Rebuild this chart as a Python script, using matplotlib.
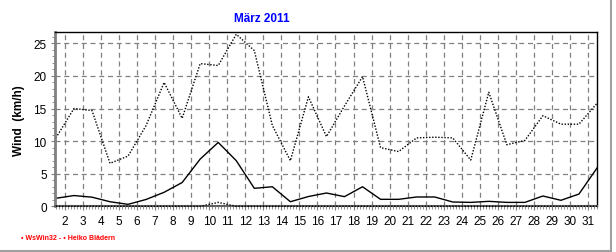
import matplotlib
matplotlib.use("Agg")
import matplotlib.pyplot as plt
from matplotlib.ticker import MultipleLocator
from matplotlib.lines import Line2D

plt.rcParams['font.family'] = ['Liberation Sans', 'DejaVu Sans']

days = list(range(1, 32))
wind_max = [10.5, 15.0, 14.7, 6.6, 7.7, 12.4, 19.0, 13.5, 21.9, 21.6,
            26.4, 23.9, 12.4, 7.0, 16.8, 10.7, 15.4, 19.9, 9.0, 8.4,
            10.5, 10.6, 10.5, 7.1, 17.5, 9.45, 10.1, 13.9, 12.6, 12.6, 15.8]
wind_mean = [1.23, 1.65, 1.4, 0.7, 0.3, 1.05, 2.15, 3.65, 7.25, 9.8,
             7.0, 2.76, 3.0, 0.7, 1.5, 2.04, 1.48, 3.0, 1.07, 1.07,
             1.43, 1.43, 0.66, 0.6, 0.76, 0.6, 0.6, 1.58, 0.92, 1.88, 5.87]
wind_min = [0, 0, 0, 0, 0, 0, 0, 0, 0, 0.6,
            0, 0, 0, 0, 0, 0, 0, 0, 0, 0,
            0, 0, 0, 0, 0, 0, 0, 0, 0, 0, 0]
xtick_labels = [str(d) for d in range(2, 32)]

W, H = 616, 253
fig = plt.figure(figsize=(W / 100, H / 100), dpi=100)
fig.patch.set_facecolor('white')

ax = fig.add_axes([55 / W, (H - 207.3) / H, (597 - 55) / W, (207.3 - 33.3) / H])
xs = [d + 0.5 for d in days]

ax.plot(xs, wind_max, color='black', lw=1.0, linestyle=(0, (1, 1.2)))
ax.plot(xs, wind_mean, color='black', lw=1.0)
ax.plot(xs, wind_min, color='black', lw=1.0, linestyle=(0, (1, 1.2)), clip_on=False, zorder=5)

ax.set_xlim(1.45, 31.5)
ax.set_ylim(0, 26.7)
ax.set_xticks(range(2, 32))
ax.set_xticklabels(xtick_labels)
ax.xaxis.set_minor_locator(MultipleLocator(1 / 6))
ax.set_yticks([0, 5, 10, 15, 20, 25])
ax.yaxis.set_minor_locator(MultipleLocator(1))

ax.grid(True, which='major', color='#808080', linestyle=(0, (4, 3)), lw=0.9)
ax.tick_params(axis='both', which='major', labelsize=8.5, length=3, color='#808080', pad=3)
ax.tick_params(axis='both', which='minor', length=2, color='#808080')

for s in ['top', 'right']:
    ax.spines[s].set_color('black')
    ax.spines[s].set_linewidth(1.0)
ax.spines['left'].set_color('#808080')
ax.spines['left'].set_linewidth(2.0)
ax.spines['bottom'].set_color('#606060')
ax.spines['bottom'].set_linewidth(1.5)

ax.set_ylabel('Wind  (km/h)', fontsize=8.5, fontweight='bold', labelpad=6)

fig.text(262 / W, 1 - 19 / H, 'März 2011', color='#0000ff', fontsize=8.5,
         fontweight='bold', ha='center', va='center')
fig.text(21 / W, 1 - 238.7 / H, '• WsWin32 - • Heiko Blädern', color='red',
         fontsize=5, fontweight='bold', ha='left', va='center')

# figure frame lines (right and bottom)
fig.add_artist(Line2D([0, 611 / W], [1 - 251.5 / H, 1 - 251.5 / H], transform=fig.transFigure,
                      color='#a0a0a0', lw=1.5))
fig.add_artist(Line2D([611 / W, 611 / W], [0, 1], transform=fig.transFigure,
                      color='#a0a0a0', lw=1.5))

fig.savefig('out.png', dpi=100)
